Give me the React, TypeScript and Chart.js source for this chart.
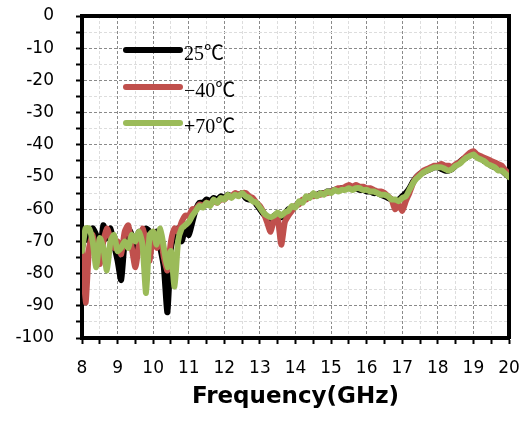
import React, { useEffect, useRef } from "react";
import { Chart, registerables } from "chart.js";

Chart.register(...registerables);

const freq = [
  8.0, 8.1, 8.2, 8.3, 8.4, 8.5, 8.6, 8.7, 8.8, 8.9,
  9.0, 9.1, 9.2, 9.3, 9.4, 9.5, 9.6, 9.7, 9.8, 9.9,
  10.0, 10.1, 10.2, 10.3, 10.4, 10.5, 10.6, 10.7, 10.8, 10.9,
  11.0, 11.1, 11.2, 11.3, 11.4, 11.5, 11.6, 11.7, 11.8, 11.9,
  12.0, 12.1, 12.2, 12.3, 12.4, 12.5, 12.6, 12.7, 12.8, 12.9,
  13.0, 13.1, 13.2, 13.3, 13.4, 13.5, 13.6, 13.7, 13.8, 13.9,
  14.0, 14.1, 14.2, 14.3, 14.4, 14.5, 14.6, 14.7, 14.8, 14.9,
  15.0, 15.1, 15.2, 15.3, 15.4, 15.5, 15.6, 15.7, 15.8, 15.9,
  16.0, 16.1, 16.2, 16.3, 16.4, 16.5, 16.6, 16.7, 16.8, 16.9,
  17.0, 17.1, 17.2, 17.3, 17.4, 17.5, 17.6, 17.7, 17.8, 17.9,
  18.0, 18.1, 18.2, 18.3, 18.4, 18.5, 18.6, 18.7, 18.8, 18.9,
  19.0, 19.1, 19.2, 19.3, 19.4, 19.5, 19.6, 19.7, 19.8, 19.9,
  20.0,
];

const s25 = [
  -72, -67, -70, -66, -68, -74, -65, -69, -66, -71,
  -76, -82, -70, -66, -68, -74, -67, -69, -66, -67,
  -70, -67, -72, -78, -92, -72, -68, -66, -70, -66,
  -68, -64, -60, -58, -58, -57, -57.5, -56.5, -57, -56,
  -56.5, -55.5, -56, -55.5, -55.5, -55, -56.5, -57, -57, -58.5,
  -60, -61.5, -62.5, -63, -62, -61.5, -62.5, -61.5, -60, -60,
  -59, -58, -57.5, -56.5, -56, -55.5, -55.5, -55, -55, -54.5,
  -54.5, -54, -54, -53.5, -53.5, -53, -53.5, -53.5, -54, -54,
  -54.5, -54.5, -55, -55, -55.5, -56, -56.5, -57, -57.5, -57,
  -56, -55, -53.5, -51.5, -50, -49, -48.5, -48, -47.5, -47,
  -47, -47.5, -48, -48, -47.5, -46.5, -45.5, -44.5, -44, -43,
  -42.5, -43.5, -44, -45, -45.5, -46.5, -47, -47.5, -48, -49,
  -50,
];

const sM40 = [
  -70, -89, -72, -68, -74, -77, -70, -66, -69, -72,
  -70, -74, -67, -65, -72, -78, -71, -66, -70, -76,
  -67, -72, -68, -75, -79, -70, -66, -67, -64, -62,
  -62, -60, -60, -58.5, -59, -58, -58.5, -57.5, -58, -57,
  -57, -56, -56, -55, -55.5, -55, -55, -56, -56.5, -58,
  -59, -61, -64, -67, -63, -63, -71, -64, -62, -60.5,
  -59, -58.5, -57, -57, -56, -56, -55.5, -55.5, -55, -55,
  -54.5, -54, -53.5, -53.5, -53, -52.5, -53, -52.5, -53, -53,
  -53.5, -53.5, -54, -54.5, -54.5, -55, -56, -57, -60, -58.5,
  -60.5, -57.5, -55, -52, -50, -49, -48, -47.5, -47, -46.5,
  -46.5, -46, -46.5, -46.5, -47, -46, -45.5, -44.5, -43.5, -42.5,
  -42, -43, -43.5, -44, -44.5, -45, -45.5, -46, -46.5, -48,
  -49,
];

const sP70 = [
  -73, -66, -66, -70, -78, -69, -72, -79, -70, -68,
  -73, -72, -70, -72, -68, -70, -67, -71, -86, -68,
  -67, -71, -66, -72, -78, -73, -84, -70, -66, -65,
  -64, -62, -60.5, -59, -59.5, -58, -59, -57, -58, -56.5,
  -57, -55.5, -56.5, -55.5, -56, -55, -56, -56.5, -57.5, -58,
  -59.5, -61, -62, -62.5, -62, -61, -62, -61, -60.5, -59,
  -59.5, -57.5, -58, -56, -56.5, -55, -56, -55, -55.5, -54.5,
  -55, -54, -54.5, -54, -54, -53.5, -54, -53.5, -53.5, -54,
  -54, -54.5, -54.5, -55, -55.5, -55.5, -56, -57, -57, -57.5,
  -56.5, -56, -54, -52, -50.5, -49.5, -48.5, -48, -47.5, -47,
  -47, -47, -47.5, -48, -47.5, -46.5, -46, -45, -44, -43.5,
  -43, -44, -44.5, -45, -46, -46.5, -47, -48, -48, -49,
  -50,
];

const legendLabels = ["25℃", "−40℃", "+70℃"];
const colors = ["#000000", "#C0504D", "#9BBB59"];

const xTickMin = 8;
const xTickMax = 20;
const yTickMin = -100;
const yTickMax = 0;

const tickFont = { family: "'DejaVu Sans', Verdana, sans-serif", size: 17 };

export default function App() {
  const ref = useRef<HTMLCanvasElement | null>(null);

  useEffect(() => {
    if (!ref.current) return;
    const series = [s25, sM40, sP70];

    const legendPlugin = {
      id: "insideLegend",
      afterDraw(chart: any) {
        const ctx = chart.ctx;
        const left = chart.scales.x.getPixelForValue(xTickMin);
        ctx.save();
        const lx1 = left + 44;
        const lx2 = left + 98;
        const rows = [50, 87, 123];
        ctx.font = "20px 'Liberation Serif', 'Noto Sans CJK SC', serif";
        ctx.textBaseline = "middle";
        ctx.textAlign = "left";
        for (let i = 0; i < legendLabels.length; i++) {
          ctx.strokeStyle = colors[i];
          ctx.lineWidth = 6;
          ctx.lineCap = "round";
          ctx.beginPath();
          ctx.moveTo(lx1, rows[i]);
          ctx.lineTo(lx2, rows[i]);
          ctx.stroke();
          ctx.fillStyle = "#000";
          ctx.fillText(legendLabels[i], lx2 + 4, rows[i] + 5);
        }
        ctx.restore();
      },
    };

    const frameAxis = (position: string, horizontal: boolean) => ({
      type: "linear" as const,
      position,
      min: horizontal ? xTickMin : yTickMin,
      max: horizontal ? xTickMax : yTickMax,
      grid: { display: false, drawOnChartArea: false, drawTicks: false },
      ticks: { display: false },
      border: { display: true, width: 4, color: "#000" },
      afterFit: (s: any) => {
        if (horizontal) s.height = 0;
        else s.width = 0;
        s.paddingLeft = 0;
        s.paddingRight = 0;
        s.paddingTop = 0;
        s.paddingBottom = 0;
      },
    });

    const chart = new Chart(ref.current, {
      type: "line",
      data: {
        datasets: series.map((s, i) => ({
          label: legendLabels[i],
          data: freq.map((f, j) => ({ x: f, y: s[j] })),
          borderColor: colors[i],
          backgroundColor: colors[i],
          borderWidth: 6,
          pointRadius: 0,
          tension: 0.2,
          borderJoinStyle: "round" as const,
          borderCapStyle: "round" as const,
          order: 2 - i,
          xAxisID: "x",
          yAxisID: "y",
        })),
      },
      options: {
        animation: false,
        responsive: false,
        maintainAspectRatio: false,
        layout: { padding: { top: 16, right: 11, left: 0, bottom: 0 } },
        plugins: {
          legend: { display: false },
          tooltip: { enabled: false },
        },
        scales: {
          x: {
            type: "linear",
            position: "bottom",
            min: xTickMin,
            max: xTickMax,
            afterFit: (s: any) => {
              s.height = 86;
              s.paddingLeft = 0;
              s.paddingRight = 0;
            },
            border: { display: true, width: 4, color: "#000", dash: [3, 2] },
            grid: {
              drawOnChartArea: true,
              color: (c: any) =>
                c.tick && Number.isInteger(c.tick.value) ? "#8a8a8a" : "#dddddd",
              lineWidth: 1,
              tickLength: 6,
              tickColor: "#000",
              tickWidth: 2,
            },
            ticks: {
              stepSize: 0.5,
              autoSkip: false,
              maxRotation: 0,
              padding: 14,
              color: "#000",
              font: tickFont,
              callback: (v: any) => (Number.isInteger(v) ? String(v) : ""),
            },
            title: {
              display: true,
              text: "Frequency(GHz)",
              color: "#000",
              font: { family: "'DejaVu Sans', Verdana, sans-serif", size: 23, weight: "bold" },
              padding: { top: 0, bottom: 13 },
            },
          },
          y: {
            type: "linear",
            position: "left",
            min: yTickMin,
            max: yTickMax,
            afterFit: (s: any) => {
              s.width = 82;
              s.paddingTop = 0;
              s.paddingBottom = 0;
            },
            border: { display: true, width: 4, color: "#000", dash: [3, 2] },
            grid: {
              drawOnChartArea: true,
              color: (c: any) =>
                c.tick && c.tick.value % 10 === 0 ? "#8a8a8a" : "#dddddd",
              lineWidth: 1,
              tickLength: 6,
              tickColor: "#000",
              tickWidth: 2,
            },
            ticks: {
              stepSize: 5,
              autoSkip: false,
              padding: 22,
              color: "#000",
              font: tickFont,
              callback: (v: any) => (v % 10 === 0 ? String(v) : ""),
            },
          },
          x2: frameAxis("top", true),
          y2: frameAxis("right", false),
        },
      },
      plugins: [legendPlugin],
    });

    return () => chart.destroy();
  }, []);

  return (
    <div style={{ position: "fixed", left: 0, top: 0, width: 520, height: 424, background: "#fff" }}>
      <canvas ref={ref} width={520} height={424} />
    </div>
  );
}
